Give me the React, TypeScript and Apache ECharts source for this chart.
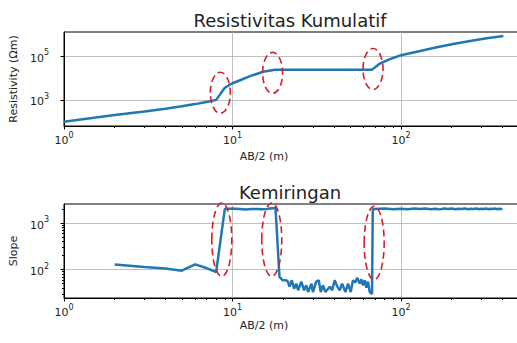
import React, { useEffect, useRef } from "react";
import * as echarts from "echarts";

// ---- data ----
const resAB = [1, 2, 3, 4, 5, 6, 7, 8, 9, 10, 11, 12.7, 15.2, 17.9, 25, 35, 50, 67, 70, 75, 86, 100, 130, 163, 204, 257, 323, 405];
const resRho = [100, 200, 290, 390, 510, 640, 800, 1000, 3600, 5800, 7800, 12300, 19600, 24000, 24000, 24200, 24300, 24500, 31000, 47000, 75000, 113000, 175000, 260000, 370000, 510000, 680000, 860000];

const slopeAB = [2, 3, 4, 5, 6, 7, 8, 9, 10, 11, 12, 13, 14, 15, 16, 17, 18, 19, 19.9, 20.9, 21.3, 21.8, 22.5, 23.2, 23.9, 24.5, 25.6, 26.6, 27.4, 28.1, 29.4, 30, 31.4, 32.5, 33.4, 34.4, 35.6, 37.8, 39, 40.4, 41.9, 43.3, 44.7, 46.8, 48.5, 50.3, 51.9, 53.5, 55, 56.9, 58.2, 59.5, 60.9, 62.3, 63.7, 65.2, 67.3, 68, 70, 80, 90, 100, 110, 120, 130, 140, 150, 160, 170, 180, 190, 200, 210, 220, 230, 240, 250, 260, 270, 280, 290, 300, 310, 320, 330, 340, 350, 360, 370, 380, 390, 400];
const slopeVal = [129, 114, 106, 95, 130, 108, 89, 2000, 2050, 2000, 1950, 2000, 2000, 1980, 2000, 2080, 2100, 70, 59, 59, 55, 43, 59, 39, 50, 36, 55, 36, 46, 33, 50, 33, 55, 59, 33, 46, 33, 43, 36, 59, 43, 36, 50, 33, 50, 33, 59, 53, 67, 50, 62, 46, 59, 41, 55, 33, 30, 1950, 2000, 2060, 1990, 2040, 1980, 2050, 2000, 2060, 1990, 2030, 1970, 2050, 2010, 2060, 1980, 2040, 2000, 2050, 1990, 2040, 2010, 2060, 1980, 2030, 2000, 2050, 1990, 2040, 2010, 2050, 1990, 2030, 2000, 2020];

const xMajor = [1, 10, 100, 1000];
const xLabels = [1, 10, 100];
const resYMajor = [1e3, 1e5];
const slopeYMajor = [1e2, 1e3];

const resMarks = [[8.47, 2120], [17.3, 17500], [68.2, 26200]];
const slopeMarks = [[8.64, 440], [17.1, 440], [69.3, 372]];

const titles = ["Resistivitas Kumulatif", "Kemiringan"];
const xName = "AB/2 (m)";
const yNames = ["Resistivity (Ωm)", "Slope"];

// ---- styles ----
const FONT = "DejaVu Sans";
const TXT = "#222";
const BLUE = "#1f77b4";
const RED = "#d0202a";

const rich = {
  b: { fontSize: 11, fontFamily: FONT, color: TXT, lineHeight: 15, verticalAlign: "bottom" },
  s: { fontSize: 8, fontFamily: FONT, color: TXT, lineHeight: 15, verticalAlign: "top" },
};

const powFmt = (ticks: number[]) => (v: number) => {
  const hit = ticks.find((t) => Math.abs(v - t) / t < 1e-6);
  if (hit === undefined) return "";
  return `{b|10}{s|${Math.round(Math.log10(hit))}}`;
};

const gridTops = [32, 204];
const GRID_H = 94;
const GRID_LEFT = 64;
const GRID_W = 505.5;

function xAxis(i: number) {
  return {
    type: "log",
    gridIndex: i,
    min: 1,
    max: 1000,
    axisLine: { show: true, onZero: false, lineStyle: { color: "#000", width: 1 } },
    axisTick: { show: true, length: 3.5, customValues: xMajor, lineStyle: { color: "#000" } },
    minorTick: { show: true, splitNumber: 9, length: 2, lineStyle: { color: "#000" } },
    axisLabel: { customValues: xLabels, formatter: powFmt(xLabels), rich, margin: 5 },
    splitLine: { show: true, lineStyle: { color: "#b0b0b0", width: 0.8 } },
  };
}

function yAxis(i: number, min: number, max: number, ticks: number[], name: string, gap: number, minor: boolean) {
  return {
    type: "log",
    gridIndex: i,
    min,
    max,
    name,
    nameLocation: "middle",
    nameGap: gap,
    nameTextStyle: { fontFamily: FONT, fontSize: 11, color: TXT },
    axisLine: { show: true, lineStyle: { color: "#000", width: 1 } },
    axisTick: { show: true, length: 3.5, customValues: ticks, lineStyle: { color: "#000" } },
    minorTick: { show: minor, splitNumber: 9, length: 2, lineStyle: { color: "#000" } },
    axisLabel: { customValues: ticks, formatter: powFmt(ticks), rich, margin: 15 },
    splitLine: { show: true, lineStyle: { color: "#b0b0b0", width: 0.8 } },
  };
}

function ellipseSeries(axis: number, marks: number[][], rx: number, ry: number) {
  return {
    type: "custom",
    xAxisIndex: axis,
    yAxisIndex: axis,
    clip: false,
    z: 10,
    data: marks,
    renderItem: (_p: any, api: any) => {
      const c = api.coord([api.value(0), api.value(1)]);
      return {
        type: "ellipse",
        shape: { cx: c[0], cy: c[1], rx, ry },
        style: { fill: "none", stroke: RED, lineWidth: 1.6, lineDash: [7, 4] },
      };
    },
  };
}

export default function App() {
  const ref = useRef<HTMLDivElement>(null);
  useEffect(() => {
    if (!ref.current) return;
    const chart = echarts.init(ref.current, undefined, { renderer: "svg" });
    const centerX = 290;
    chart.setOption({
      animation: false,
      backgroundColor: "#fff",
      grid: gridTops.map((t) => ({
        left: GRID_LEFT,
        top: t,
        width: GRID_W,
        height: GRID_H,
        show: true,
        borderColor: "#000",
        borderWidth: 1,
        containLabel: false,
        outerBoundsMode: "none",
      })),
      xAxis: [xAxis(0), xAxis(1)],
      yAxis: [
        yAxis(0, Math.pow(10, 1.8), Math.pow(10, 6.12), resYMajor, yNames[0], 44, false),
        yAxis(1, Math.pow(10, 1.39), Math.pow(10, 3.41), slopeYMajor, yNames[1], 38, true),
      ],
      graphic: [
        { type: "text", x: centerX, y: 20, style: { text: titles[0], align: "center", verticalAlign: "middle", font: `18px '${FONT}'`, fill: TXT } },
        { type: "text", x: centerX, y: 192, style: { text: titles[1], align: "center", verticalAlign: "middle", font: `18px '${FONT}'`, fill: TXT } },
        { type: "text", x: 264, y: 156, style: { text: xName, align: "center", verticalAlign: "middle", font: `11px '${FONT}'`, fill: TXT } },
        { type: "text", x: 264, y: 325, style: { text: xName, align: "center", verticalAlign: "middle", font: `11px '${FONT}'`, fill: TXT } },
      ],
      series: [
        {
          type: "line",
          xAxisIndex: 0,
          yAxisIndex: 0,
          data: resAB.map((x, i) => [x, resRho[i]]),
          showSymbol: false,
          lineStyle: { color: BLUE, width: 2.5 },
          itemStyle: { color: BLUE },
        },
        {
          type: "line",
          xAxisIndex: 1,
          yAxisIndex: 1,
          data: slopeAB.map((x, i) => [x, slopeVal[i]]),
          showSymbol: false,
          lineStyle: { color: BLUE, width: 2.5 },
          itemStyle: { color: BLUE },
        },
        ellipseSeries(0, resMarks, 10, 20.5),
        ellipseSeries(1, slopeMarks, 10, 36.7),
      ],
    });
    return () => chart.dispose();
  }, []);
  return <div ref={ref} style={{ position: "fixed", left: 0, top: 0, width: 517, height: 343 }} />;
}
